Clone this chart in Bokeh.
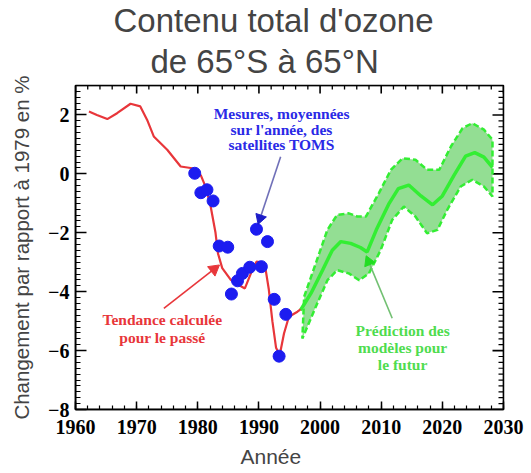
import numpy as np
from bokeh.plotting import figure
from bokeh.models import SingleIntervalTicker, Range1d, Title, BoxAnnotation
from bokeh.core.properties import value
from bokeh.embed import file_html
from bokeh.resources import INLINE

# ---- data ----
trend_years = [1962.2, 1963.5, 1965.2, 1966.8, 1969.0, 1970.6, 1971.7, 1972.8,
               1975.0, 1977.2, 1979.1, 1980.5, 1981.3, 1982.1, 1982.9, 1983.3,
               1984.0, 1985.4, 1986.5, 1987.7, 1988.9, 1989.6, 1990.4, 1991.1,
               1991.6, 1992.2, 1992.8, 1993.4, 1994.1, 1994.9, 1996.3, 1996.8]
trend_values = [2.12, 2.0, 1.86, 2.06, 2.38, 2.29, 1.84, 1.27,
                0.82, 0.25, 0.19, -0.05, -0.45, -1.1, -2.0, -2.7,
                -3.2, -3.6, -3.75, -3.89, -3.27, -2.98, -3.0, -3.25,
                -3.9, -5.0, -5.9, -6.15, -5.42, -4.85, -4.68, -4.6]

toms_years = [1979.5, 1980.5, 1981.5, 1982.5, 1983.5, 1984.9, 1985.5, 1986.5,
              1987.3, 1988.5, 1989.6, 1990.4, 1991.4, 1992.5, 1993.3, 1994.4]
toms_values = [0.02, -0.64, -0.54, -0.92, -2.45, -2.49, -4.08, -3.63,
               -3.38, -3.17, -1.88, -3.15, -2.30, -4.26, -6.19, -4.77]

model_years = [1996.8, 1998.5, 2000.4, 2002.0, 2003.4, 2005.0, 2006.6, 2007.7,
               2009.2, 2011.3, 2012.8, 2014.5, 2016.5, 2018.4, 2020.0, 2021.9,
               2023.8, 2025.3, 2026.8, 2028.2]
model_values = [-4.63, -4.06, -3.27, -2.59, -2.30, -2.36, -2.50, -2.65,
                -1.9, -1.0, -0.5, -0.38, -0.75, -1.05, -0.75, -0.05,
                0.6, 0.72, 0.57, 0.22]

upper_years = [1997.4, 1999.3, 2001.2, 2002.8, 2004.7, 2006.1, 2007.5, 2009.6,
               2011.6, 2013.5, 2015.6, 2017.5, 2019.5, 2021.4, 2023.3, 2024.9,
               2026.8, 2028.2]
upper_values = [-4.17, -3.04, -1.90, -1.39, -1.34, -1.45, -1.45, -0.66,
                0.14, 0.53, 0.48, 0.14, 0.14, 0.93, 1.55, 1.72,
                1.50, 1.16]
lower_years = [1997.1, 1999.3, 2001.2, 2002.8, 2004.7, 2006.4, 2008.0, 2009.9,
               2011.8, 2013.7, 2015.6, 2017.5, 2019.2, 2020.8, 2023.0, 2024.9,
               2026.8, 2028.2]
lower_values = [-5.59, -4.51, -3.61, -3.27, -3.38, -3.61, -3.38, -2.59,
                -1.56, -1.11, -1.45, -2.02, -1.90, -1.22, -0.43, -0.20,
                -0.43, -0.77]

x_ticks_interval = 10
x_minor_interval = 2
y_ticks_interval = 2
y_minor_interval = 0.2
y_tick_labels = {-8: "\u22128", -6: "\u22126", -4: "\u22124", -2: "\u22122", 0: "0", 2: "2"}

title_line1 = "Contenu total d'ozone"
title_line2 = "de 65°S à 65°N"
x_label = "Année"
y_label = "Changement par rapport à 1979 en %"
blue_text = ["Mesures, moyennées", "sur l'année, des", "satellites TOMS"]
red_text = ["Tendance calculée", "pour le passé"]
green_text = ["Prédiction des", "modèles pour", "le futur"]

# ---- colours / styles ----
RED = "#e8363a"
BLUE = "#1c1cf0"
BLUE_TXT = "#2a2ae6"
GREEN = "#33ee33"
GREEN_TXT = "#4fdc4f"
SERIF = "Liberation Serif"
SANS = "Liberation Sans"
X0, X1, Y0, Y1 = 1960, 2030, -8, 3
FRAME_W, FRAME_H = 428, 325  # frame size in px

p = figure(width=531, height=473,
           x_range=Range1d(X0, X1), y_range=Range1d(Y0, Y1),
           output_backend="svg", toolbar_location=None,
           min_border_left=75, min_border_right=28,
           min_border_top=85, min_border_bottom=63)
p.grid.grid_line_color = None
p.outline_line_color = "black"
p.outline_line_width = 1.5

p.xaxis.ticker = SingleIntervalTicker(interval=x_ticks_interval, num_minor_ticks=5)
p.yaxis.ticker = SingleIntervalTicker(interval=y_ticks_interval, num_minor_ticks=10)
for ax, (mj, mn) in ((p.xaxis[0], (8, 4)), (p.yaxis[0], (11, 5))):
    ax.major_tick_in = mj
    ax.major_tick_out = 0
    ax.minor_tick_in = mn
    ax.minor_tick_out = 0
    ax.axis_line_color = "black"
    ax.axis_line_width = 1.5
    ax.major_tick_line_color = "black"
    ax.minor_tick_line_color = "black"
    ax.major_tick_line_width = 1.5
    ax.minor_tick_line_width = 1.2
    ax.major_label_text_font = SERIF
    ax.major_label_text_font_style = "bold"
    ax.major_label_text_font_size = "20px"
    ax.major_label_text_color = "black"
p.xaxis.major_label_standoff = 10
p.yaxis.major_label_overrides = y_tick_labels
p.yaxis.major_label_standoff = 6
p.yaxis.axis_label = y_label
p.yaxis.axis_label_text_font = SANS
p.yaxis.axis_label_text_font_style = "normal"
p.yaxis.axis_label_text_font_size = "20.5px"
p.yaxis.axis_label_standoff = 12

p.add_layout(Title(text=x_label, align="left", offset=165, text_font=SANS,
                   text_font_style="normal", text_font_size="21px", standoff=12), "below")
p.add_layout(Title(text=title_line2, align="left", offset=75, text_font=SANS,
                   text_font_style="normal", text_font_size="33px", standoff=11), "above")
p.add_layout(Title(text=title_line1, align="left", offset=38, text_font=SANS,
                   text_font_style="normal", text_font_size="33px", standoff=-7), "above")

# frame border
p.add_layout(BoxAnnotation(left=X0, right=X1, bottom=Y0, top=Y1,
                           fill_alpha=0, line_color="black", line_width=2))

# ---- inward ticks on the top and right edges ----
px_x = (X1 - X0) / FRAME_W
px_y = (Y1 - Y0) / FRAME_H
x_major = np.arange(X0, X1 + 0.5, x_ticks_interval)
x_minor = np.array([v for v in np.arange(X0, X1 + 0.5, x_minor_interval)
                    if v % x_ticks_interval != 0])
y_major = np.arange(Y0, Y1 + 0.01, y_ticks_interval)
y_all = np.round(np.arange(Y0, Y1 + 0.001, y_minor_interval), 6)
y_minor = np.array([v for v in y_all
                    if abs(v / y_ticks_interval - round(v / y_ticks_interval)) > 1e-6])
for xs, length, lw in ((x_major, 8, 1.6), (x_minor, 4, 1.3)):
    d = length * px_y
    p.segment(x0=xs, y0=np.full(len(xs), Y1), x1=xs, y1=np.full(len(xs), Y1 - d),
              line_color="black", line_width=lw)
for ys, length, lw in ((y_major, 11, 1.6), (y_minor, 5, 1.2)):
    d = length * px_x
    p.segment(x0=np.full(len(ys), X1), y0=ys, x1=np.full(len(ys), X1 - d), y1=ys,
              line_color="black", line_width=lw)

# ---- model band ----
band_x = upper_years + lower_years[::-1]
band_y = upper_values + lower_values[::-1]
p.patch(band_x, band_y, fill_color="#80d880", fill_alpha=0.85,
        line_color=GREEN, line_width=2.5, line_dash="6 3")
p.line(model_years, model_values, line_color=GREEN, line_width=3.5)

# ---- past trend & measurements ----
p.line(trend_years, trend_values, line_color=RED, line_width=2.2)
p.scatter(toms_years, toms_values, size=12, fill_color=BLUE, line_color=BLUE)


# ---- pointer arrows (segment + triangle head) ----
def pointer(x0, y0, x1, y1, line_color, head_color, size):
    dx = (x1 - x0) / px_x
    dy = (y1 - y0) / px_y
    theta = np.arctan2(dy, dx)
    back = size * 0.35
    hx = x1 - back * np.cos(theta) * px_x
    hy = y1 - back * np.sin(theta) * px_y
    p.segment(x0=[x0], y0=[y0], x1=[hx], y1=[hy], line_color=line_color, line_width=1.6)
    p.scatter([hx], [hy], marker="triangle", size=size, angle=theta - np.pi / 2,
              fill_color=head_color, line_color=head_color)


pointer(1993.55, 0.58, 1990.0, -1.63, "#7070b8", "#1c1cc8", 11)
pointer(1974.45, -4.57, 1983.2, -3.15, RED, RED, 12)
pointer(2011.8, -4.90, 2007.7, -2.86, "#72c072", "#22dd22", 11)

p.text(x=[1993.7] * 3, y=[2.05, 1.50, 0.98], text=blue_text,
       text_font=value(SERIF), text_font_style="bold", text_font_size="15.5px",
       text_color=BLUE_TXT, text_align="center", text_baseline="middle")
p.text(x=[1974.2] * 2, y=[-4.93, -5.54], text=red_text,
       text_font=value(SERIF), text_font_style="bold", text_font_size="15.5px",
       text_color=RED, text_align="center", text_baseline="middle")
p.text(x=[2013.5] * 3, y=[-5.31, -5.88, -6.48], text=green_text,
       text_font=value(SERIF), text_font_style="bold", text_font_size="15.5px",
       text_color=GREEN_TXT, text_align="center", text_baseline="middle")

open("out.html", "w").write(file_html(p, INLINE))
